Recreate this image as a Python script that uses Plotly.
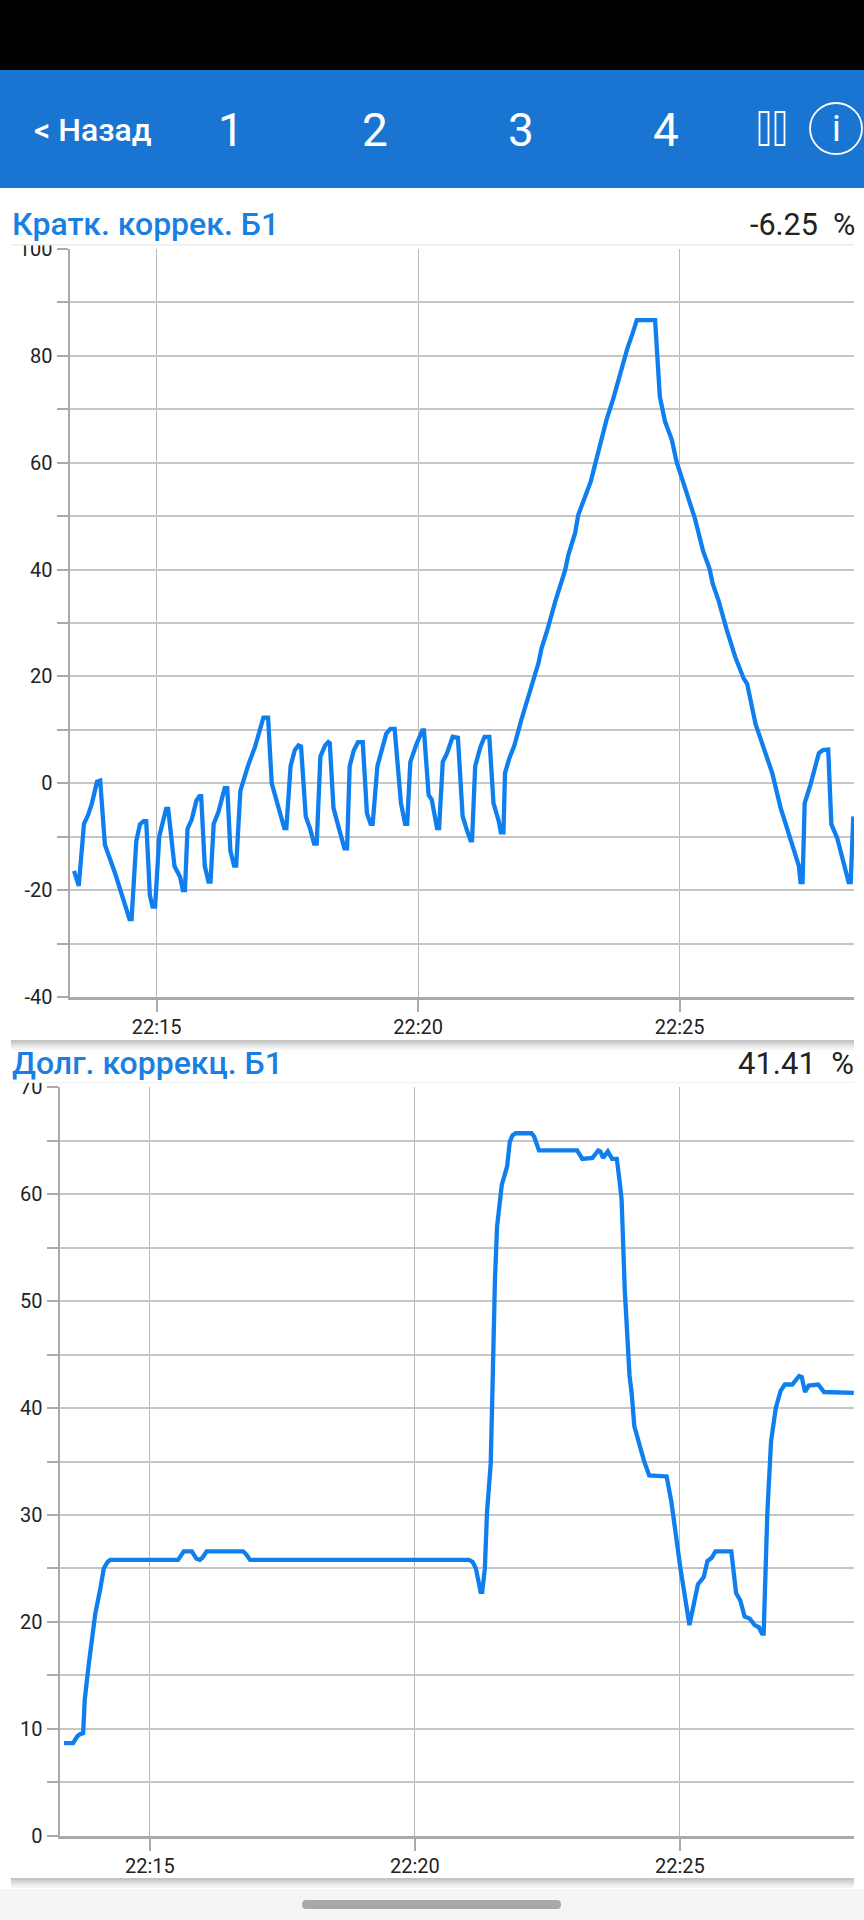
import plotly.graph_objects as go

W, H = 864, 1920

# minutes after 22:00
short_t = [13.42, 13.51, 13.61, 13.69, 13.76, 13.86, 13.92, 14.01, 14.20, 14.39, 14.48, 14.52, 14.61, 14.68, 14.75,
           14.80, 14.87, 14.92, 14.97, 15.05, 15.18, 15.22, 15.34, 15.45, 15.50, 15.54, 15.59, 15.67, 15.76, 15.82,
           15.85, 15.92, 15.99, 16.03, 16.09, 16.18, 16.30, 16.35, 16.41, 16.48, 16.52, 16.60, 16.75, 16.88, 17.04,
           17.13, 17.20, 17.36, 17.44, 17.48, 17.56, 17.64, 17.71, 17.76, 17.85, 17.93, 18.01, 18.06, 18.13, 18.22,
           18.28, 18.31, 18.38, 18.50, 18.59, 18.64, 18.69, 18.77, 18.85, 18.94, 19.02, 19.09, 19.13, 19.22, 19.39,
           19.47, 19.55, 19.67, 19.75, 19.79, 19.85, 19.97, 20.08, 20.11, 20.20, 20.26, 20.36, 20.40, 20.47, 20.55,
           20.66, 20.76, 20.85, 20.93, 21.00, 21.03, 21.09, 21.19, 21.27, 21.36, 21.44, 21.54, 21.58, 21.63, 21.66,
           21.74, 21.84, 21.97, 22.07, 22.20, 22.30, 22.36, 22.47, 22.62, 22.81, 22.87, 23.00, 23.06, 23.16, 23.30,
           23.38, 23.54, 23.60, 23.73, 23.83, 23.92, 24.00, 24.10, 24.18, 24.53, 24.57, 24.62, 24.72, 24.85, 24.94,
           25.04, 25.29, 25.45, 25.57, 25.63, 25.74, 25.90, 26.06, 26.22, 26.29, 26.45, 26.61, 26.77, 26.93, 27.12,
           27.28, 27.31, 27.35, 27.39, 27.50, 27.66, 27.74, 27.84, 27.90, 28.01, 28.23, 28.27, 28.32]
short_v = [-16.4, -19.2, -7.6, -5.9, -3.8, 0.3, 0.5, -11.5, -16.7, -22.3, -25.4, -25.4, -10.8, -7.7, -7.1,
           -7.1, -21.0, -23.1, -23.1, -9.9, -4.8, -4.8, -15.5, -17.6, -20.0, -20.0, -8.5, -6.8, -3.2, -2.4,
           -2.4, -15.5, -18.4, -18.4, -7.6, -5.4, -0.9, -0.9, -12.7, -15.4, -15.4, -1.4, 3.4, 6.8, 12.3,
           12.3, 0.0, -5.6, -8.4, -8.4, 3.2, 6.2, 7.1, 6.9, -6.2, -8.4, -11.3, -11.3, 5.0, 7.1,
           7.7, 7.5, -4.6, -9.0, -12.2, -12.2, 3.2, 6.2, 7.7, 7.7, -5.6, -7.6, -7.6, 3.2, 9.3,
           10.2, 10.2, -3.7, -7.6, -7.6, 4.0, 7.4, 9.9, 9.9, -2.2, -3.1, -8.4, -8.4, 4.0, 5.6,
           8.7, 8.5, -6.2, -8.7, -10.7, -10.7, 3.2, 6.8, 8.7, 8.7, -3.7, -7.1, -9.2, -9.2, 1.9,
           4.6, 7.1, 11.8, 15.2, 19.5, 22.5, 25.3, 28.7, 34.0, 39.9, 42.7, 46.8, 50.2, 53.0, 56.5,
           59.6, 66.1, 68.0, 72.0, 75.5, 78.0, 81.4, 84.2, 86.7, 86.7, 79.9, 72.4, 67.7, 64.3, 60.2,
           57.1, 49.6, 43.4, 40.2, 37.4, 34.3, 28.7, 23.7, 19.7, 18.6, 11.1, 6.2, 1.9, -4.6, -10.5,
           -15.5, -18.5, -18.5, -3.7, -0.3, 5.6, 6.2, 6.3, -7.7, -10.2, -18.5, -18.5, -6.2]

long_t = [13.38, 13.55, 13.63, 13.68, 13.74, 13.77, 13.84, 13.90, 13.97, 14.06, 14.13, 14.20, 14.25, 15.53, 15.58,
          15.64, 15.79, 15.88, 15.94, 15.99, 16.07, 16.76, 16.82, 16.89, 21.02, 21.09, 21.15, 21.24, 21.27, 21.32,
          21.36, 21.43, 21.46, 21.48, 21.51, 21.55, 21.64, 21.74, 21.79, 21.84, 21.90, 22.20, 22.25, 22.34, 23.06,
          23.16, 23.28, 23.35, 23.46, 23.50, 23.55, 23.64, 23.72, 23.81, 23.86, 23.90, 23.96, 24.05, 24.09, 24.14,
          24.32, 24.42, 24.75, 24.84, 25.01, 25.16, 25.18, 25.26, 25.34, 25.45, 25.52, 25.60, 25.67, 25.97, 26.06,
          26.14, 26.22, 26.32, 26.41, 26.49, 26.55, 26.58, 26.65, 26.72, 26.81, 26.90, 26.98, 27.12, 27.25, 27.30,
          27.36, 27.43, 27.61, 27.72, 28.28]
long_v = [8.66, 8.66, 9.3, 9.5, 9.6, 12.7, 15.8, 18.0, 20.8, 23.0, 25.0, 25.6, 25.8, 25.8, 26.1,
          26.6, 26.6, 25.9, 25.8, 26.0, 26.6, 26.6, 26.3, 25.8, 25.8, 25.6, 25.0, 22.8, 22.8, 25.0,
          30.2, 34.8, 41.0, 47.0, 52.0, 57.0, 60.9, 62.6, 64.9, 65.5, 65.7, 65.7, 65.4, 64.1, 64.1,
          63.3, 63.3, 63.4, 64.1, 64.0, 63.4, 64.0, 63.3, 63.3, 61.3, 59.5, 51.0, 43.0, 41.4, 38.3,
          35.1, 33.7, 33.6, 31.2, 25.0, 19.7, 19.7, 21.6, 23.5, 24.2, 25.7, 26.0, 26.6, 26.6, 22.7,
          22.0, 20.5, 20.3, 19.7, 19.5, 18.9, 18.9, 30.2, 36.9, 40.0, 41.6, 42.2, 42.2, 43.0, 42.9,
          41.5, 42.1, 42.2, 41.5, 41.41]

time_ticks = [15, 20, 25]
time_labels = ["22:15", "22:20", "22:25"]
short_ticks = [100, 90, 80, 70, 60, 50, 40, 30, 20, 10, 0, -10, -20, -30, -40]
short_labels = ["100", "", "80", "", "60", "", "40", "", "20", "", "0", "", "-20", "", "-40"]
long_ticks = [70, 65, 60, 55, 50, 45, 40, 35, 30, 25, 20, 15, 10, 5, 0]
long_labels = ["70", "", "60", "", "50", "", "40", "", "30", "", "20", "", "10", "", "0"]

LINE = "#0f7fef"
TITLE = "#1a7fe3"
HEADER = "#1a75d2"
TEXT = "#222222"
AXIS = "#aaaaaa"


def px(x):
    return x / W


def py(y):
    return 1 - y / H


def rect(x0, y0, x1, y1, fill, line=None, width=0):
    return dict(type="rect", xref="paper", yref="paper", layer="above",
                x0=px(x0), x1=px(x1), y0=py(y0), y1=py(y1), fillcolor=fill,
                line=dict(color=line or fill, width=width))


def label(x, y, text, size, color, anchor="center", weight=400):
    return dict(xref="paper", yref="paper", x=px(x), y=py(y), text=text, showarrow=False,
                xanchor=anchor, yanchor="middle", borderpad=0,
                font=dict(family="Roboto", size=size, color=color, weight=weight))


fig = go.Figure()
fig.add_trace(go.Scatter(x=short_t, y=short_v, mode="lines", xaxis="x", yaxis="y",
                         line=dict(color=LINE, width=4.3), hoverinfo="skip"))
fig.add_trace(go.Scatter(x=long_t, y=long_v, mode="lines", xaxis="x2", yaxis="y2",
                         line=dict(color=LINE, width=4.3), hoverinfo="skip"))

x_style = dict(tickmode="array", tickvals=time_ticks, ticktext=time_labels, ticks="outside", ticklen=12,
               tickwidth=2, tickcolor=AXIS, showgrid=True, gridcolor="#b8b8b8", gridwidth=1, showline=True,
               linecolor=AXIS, linewidth=3, zeroline=False, ticklabelstandoff=-2,
               tickfont=dict(family="Roboto", size=20, color=TEXT))
y_style = dict(tickmode="array", ticks="outside", ticklen=11, tickwidth=2, tickcolor=AXIS, showgrid=True,
               gridcolor="#c6c6c6", gridwidth=1.6, showline=True, linecolor=AXIS, linewidth=2, zeroline=False,
               tickfont=dict(family="Roboto", size=20, color=TEXT))

shapes = [
    rect(0, 0, W, 70, "#000000"),
    rect(0, 70, W, 188, HEADER),
    rect(0, 188, W, 245, "#ffffff"),
    rect(11, 244, 854, 245.5, "#ececec"),
    rect(0, 1039, W, 1083, "#ffffff"),
    rect(11, 1082, 854, 1083, "#f0f0f0"),
    rect(0, 1889, W, H, "#f5f5f5"),
    # pause and info icons
    rect(759.5, 112, 768.5, 145, "rgba(0,0,0,0)", "#ffffff", 1.8),
    rect(775.5, 112, 784.5, 145, "rgba(0,0,0,0)", "#ffffff", 1.8),
    dict(type="circle", xref="paper", yref="paper", layer="above", x0=px(810), x1=px(862), y0=py(103), y1=py(154),
         line=dict(color="#ffffff", width=1.8)),
    # nav pill
    dict(type="path", xref="paper", yref="paper", layer="above", fillcolor="#a8a8a8", line=dict(width=0),
         path=f"M {px(306)} {py(1900)} L {px(557)} {py(1900)} Q {px(561)} {py(1900)} {px(561)} {py(1904.5)} "
              f"Q {px(561)} {py(1909)} {px(557)} {py(1909)} L {px(306)} {py(1909)} "
              f"Q {px(302)} {py(1909)} {px(302)} {py(1904.5)} Q {px(302)} {py(1900)} {px(306)} {py(1900)} Z"),
]
# soft shadows under each panel
for top in (1040, 1878):
    for i, c in enumerate(["#c4c4c4", "#d2d2d2", "#e0e0e0", "#ebebeb", "#f4f4f4"]):
        shapes.append(rect(11, top + i * 2, 854, top + i * 2 + 2, c))

annotations = [
    label(33, 130, "&lt; Назад", 32, "#ffffff", "left", 500),
    label(231, 130, "1", 46, "#ffffff"),
    label(375, 130, "2", 46, "#ffffff"),
    label(520.5, 130, "3", 46, "#ffffff"),
    label(666, 130, "4", 46, "#ffffff"),
    label(836, 129, "i", 36, "#ffffff"),
    label(11, 224, "Кратк. коррек. Б1", 32, TITLE, "left", 500),
    label(856, 224, "-6.25  %", 30.5, TEXT, "right"),
    label(11, 1063, "Долг. коррекц. Б1", 32, TITLE, "left", 500),
    label(855, 1063, "41.41  %", 31, TEXT, "right"),
]

fig.update_layout(
    width=W, height=H, margin=dict(l=0, r=0, t=0, b=0, autoexpand=False), showlegend=False,
    paper_bgcolor="#ffffff", plot_bgcolor="#ffffff",
    xaxis=dict(domain=[px(69.5), px(854)], range=[13.333, 28.333], anchor="y", **x_style),
    yaxis=dict(domain=[py(997), py(249)], range=[-40, 100], anchor="x", tickvals=short_ticks, ticktext=short_labels,
               **y_style),
    xaxis2=dict(domain=[px(59.5), px(854)], range=[13.294, 28.285], anchor="y2", **x_style),
    yaxis2=dict(domain=[py(1835.7), py(1087.3)], range=[0, 70], anchor="x2", tickvals=long_ticks,
                ticktext=long_labels, **y_style),
    shapes=shapes, annotations=annotations,
)

fig.write_html("out.html", post_script="document.body.style.margin='0';", config=dict(displayModeBar=False))
